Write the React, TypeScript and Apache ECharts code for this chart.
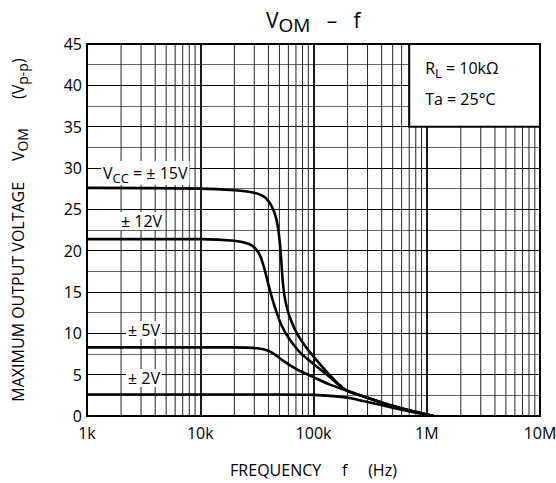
import React, { useEffect, useRef } from "react";
import * as echarts from "echarts";

// ---- data ----
const freq15 = [1000, 10000, 20000, 30000, 36000, 40000, 44000, 47000, 49500, 51500, 53000, 55000, 58500, 64000, 72000, 85000, 100000, 140000, 190000, 300000, 500000, 800000, 1150000];
const vom15 = [27.6, 27.5, 27.3, 27.0, 26.6, 26.0, 25.0, 23.8, 22.0, 19.5, 17.0, 14.8, 13.0, 11.4, 9.9, 8.4, 7.2, 4.9, 3.2, 2.2, 1.2, 0.5, 0];

const freq12 = [1000, 10000, 20000, 27000, 31000, 34000, 36500, 39000, 42000, 46000, 52000, 60000, 76000, 100000, 140000, 190000, 300000, 500000, 800000, 1150000];
const vom12 = [21.4, 21.4, 21.2, 20.8, 20.2, 19.3, 18.0, 16.5, 14.8, 13.0, 11.0, 9.5, 7.7, 6.3, 4.7, 3.2, 2.2, 1.2, 0.5, 0];

const freq5 = [1000, 20000, 32000, 40000, 47000, 55000, 70000, 100000, 140000, 196000, 300000, 500000, 800000, 1150000];
const vom5 = [8.3, 8.3, 8.2, 7.9, 7.3, 6.6, 5.7, 4.7, 3.8, 3.1, 2.2, 1.2, 0.5, 0];

const freq2 = [1000, 50000, 100000, 150000, 200000, 300000, 500000, 800000, 1150000];
const vom2 = [2.6, 2.6, 2.55, 2.4, 2.2, 1.7, 1.0, 0.4, 0];

const xTickLabels: Record<number, string> = { 1000: "1k", 10000: "10k", 100000: "100k", 1000000: "1M", 10000000: "10M" };
const decades = [1000, 10000, 100000, 1000000];
const minorMultipliers = [2, 3, 4, 5, 6, 7, 8, 9];
const minorFreqs: number[] = [];
decades.forEach((d) => minorMultipliers.forEach((m) => minorFreqs.push(d * m)));

const FONT = "'Open Sans', 'Noto Sans', 'DejaVu Sans', sans-serif";
const SP = "\u00a0";

const zip = (xs: number[], ys: number[]) => xs.map((x, i) => [x, ys[i]]);

export default function App() {
  const ref = useRef<HTMLDivElement>(null);
  useEffect(() => {
    if (!ref.current) return;
    const chart = echarts.init(ref.current, undefined, { renderer: "svg" });
    const curve = (name: string, data: number[][]) => ({
      name,
      type: "line",
      data,
      smooth: 0.3,
      showSymbol: false,
      symbol: "none",
      z: 5,
      lineStyle: { color: "#000", width: 2.6 },
    });
    chart.setOption({
      animation: false,
      backgroundColor: "#fff",
      grid: {
        left: 87,
        right: 16,
        top: 44,
        bottom: 67,
        show: true,
        borderColor: "#000",
        borderWidth: 2,
        containLabel: false,
        outerBoundsMode: "none",
      },
      xAxis: {
        type: "log",
        logBase: 10,
        min: 1000,
        max: 10000000,
        axisLine: { lineStyle: { color: "#000", width: 2 } },
        axisTick: { show: false },
        axisLabel: {
          color: "#000",
          fontSize: 16,
          fontFamily: FONT,
          margin: 9,
          formatter: (v: number) => xTickLabels[Math.round(v)] ?? "",
        },
        splitLine: { show: true, lineStyle: { color: "#000", width: 1.8 } },
        name: `FREQUENCY${SP.repeat(5)}f${SP.repeat(5)}(Hz)`,
        nameLocation: "middle",
        nameGap: 46,
        nameTextStyle: { color: "#000", fontSize: 16, fontFamily: FONT },
      },
      yAxis: {
        type: "value",
        min: 0,
        max: 45,
        interval: 5,
        axisLine: { show: true, lineStyle: { color: "#000", width: 2 } },
        axisTick: { show: false },
        axisLabel: { color: "#000", fontSize: 16, fontFamily: FONT, margin: 5 },
        splitLine: { show: true, lineStyle: { color: "#000", width: 1.2 } },
        minorTick: { show: false, splitNumber: 2 },
        minorSplitLine: { show: true, lineStyle: { color: "#666", width: 1 } },
        name: `{n|MAXIMUM OUTPUT VOLTAGE${SP.repeat(5)}V}{s|OM}{n|${SP.repeat(7)}(V}{s|p-p}{n|)}`,
        nameLocation: "middle",
        nameGap: 58,
        nameTextStyle: {
          color: "#000",
          rich: {
            n: { fontSize: 16, fontFamily: FONT, color: "#000" },
            s: { fontSize: 14, fontFamily: FONT, color: "#000", padding: [9, 0, 0, 0] },
          },
        },
      },
      series: [
        {
          type: "custom",
          z: 1,
          silent: true,
          data: minorFreqs.map((f) => [f]),
          renderItem: (params: any, api: any) => {
            const f = api.value(0);
            const p0 = api.coord([f, 0]);
            const p1 = api.coord([f, 45]);
            return {
              type: "line",
              shape: { x1: p0[0], y1: p0[1], x2: p1[0], y2: p1[1] },
              style: { stroke: "#222", lineWidth: 1 },
            };
          },
        },
        curve("±15V", zip(freq15, vom15)),
        curve("±12V", zip(freq12, vom12)),
        curve("±5V", zip(freq5, vom5)),
        curve("±2V", zip(freq2, vom2)),
      ],
    });

    const tl = chart.convertToPixel({ gridIndex: 0 }, [700000, 45]) as number[];
    const br = chart.convertToPixel({ gridIndex: 0 }, [10000000, 35]) as number[];

    const richSub = {
      n: { fontSize: 16, fontFamily: FONT, fill: "#000", fontWeight: "normal" },
      s: { fontSize: 13, fontFamily: FONT, fill: "#000", fontWeight: "normal", padding: [9, 0, 0, 0] },
    };

    const label = (text: string, x: number, y: number) => ({
      type: "text",
      z: 50,
      x,
      y,
      style: {
        text,
        fill: "#000",
        backgroundColor: "#fff",
        padding: [1, 2, 1, 2],
        verticalAlign: "middle",
        rich: richSub,
      },
    });

    chart.setOption({
      title: {
        text: `{n|V}{s|OM}{n|${SP.repeat(3)}–${SP.repeat(3)}f}`,
        left: 261,
        top: 1,
        textStyle: {
          fontWeight: "normal",
          rich: {
            n: { fontSize: 21, fontFamily: FONT, color: "#000", fontWeight: "normal" },
            s: { fontSize: 19, fontFamily: FONT, color: "#000", fontWeight: "normal", padding: [9, 0, 0, 0] },
          },
        },
      },
      graphic: [
        {
          type: "rect",
          z: 40,
          shape: { x: tl[0], y: tl[1], width: br[0] - tl[0], height: br[1] - tl[1] },
          style: { fill: "#fff", stroke: "#000", lineWidth: 2 },
        },
        {
          type: "text",
          z: 45,
          x: tl[0] + 16,
          y: tl[1] + 24,
          style: {
            text: "{n|R}{s|L}{n| = 10kΩ}",
            verticalAlign: "middle",
            rich: richSub,
          },
        },
        {
          type: "text",
          z: 45,
          x: tl[0] + 16,
          y: tl[1] + 55,
          style: { text: "Ta = 25°C", fill: "#000", fontSize: 16, fontFamily: FONT, verticalAlign: "middle" },
        },
        label("{n|V}{s|CC}{n| = ± 15V}", 101, 173),
        label("{n|± 12V}", 119, 221),
        label("{n|± 5V}", 126, 330),
        label("{n|± 2V}", 126, 378),
      ],
    });

    return () => chart.dispose();
  }, []);
  return (
    <div
      ref={ref}
      style={{ position: "absolute", left: 0, top: 0, width: 556, height: 483, background: "#fff" }}
    />
  );
}
